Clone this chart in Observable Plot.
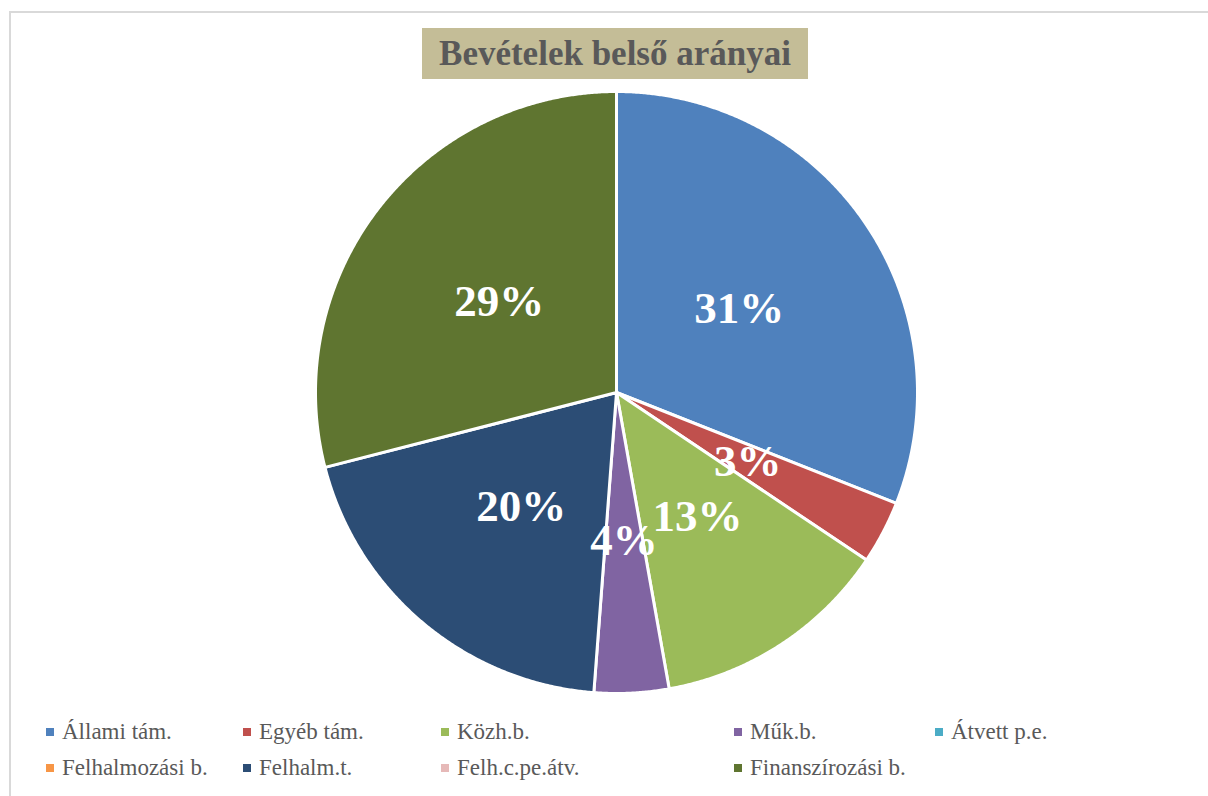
<!DOCTYPE html>
<html>
<head>
<meta charset="utf-8">
<script src="https://cdn.jsdelivr.net/npm/d3@7"></script>
<script src="https://cdn.jsdelivr.net/npm/@observablehq/plot@0.6"></script>
<style>
  html, body { margin: 0; padding: 0; background: #ffffff; }
  #wrap { position: relative; width: 1208px; height: 796px; overflow: hidden; background: #fff; }
  #frame { position: absolute; left: 9px; top: 11px; width: 1400px; height: 1000px;
           border-left: 2px solid #d9d9d9; border-top: 2px solid #d9d9d9; }
  #title { position: absolute; left: 422px; top: 28px; width: 386px; height: 51px;
           background: #c4bd97; color: #595959; font-family: "Liberation Serif", "DejaVu Serif", serif;
           font-weight: bold; font-size: 35px; display: flex; align-items: center; justify-content: center;
           white-space: nowrap; }
  #chart { position: absolute; left: 0; top: 80px; }
  #legend { position: absolute; left: 46px; top: 714px; display: grid;
            grid-template-columns: 197px 198px 293px 201px auto; grid-auto-rows: 36px;
            font-family: "Liberation Serif", "DejaVu Serif", serif; font-size: 23px; color: #595959; }
  .item { display: flex; align-items: center; white-space: nowrap; }
  .sw { width: 8px; height: 8px; margin-right: 8px; flex: none; }
</style>
</head>
<body>
<div id="wrap">
  <div id="frame"></div>
  <div id="chart"></div>
  <div id="title">Bevételek belső arányai</div>
  <div id="legend"></div>
</div>
<script>
const categories = ["Állami tám.", "Egyéb tám.", "Közh.b.", "Műk.b.", "Átvett p.e.", "Felhalmozási b.", "Felhalm.t.", "Felh.c.pe.átv.", "Finanszírozási b."];
const shares = [31.0, 3.4, 12.8, 4.0, 0, 0, 19.8, 0, 29.0];
const colors = ["#4f81bd", "#c0504d", "#9bbb59", "#8064a2", "#4bacc6", "#f79646", "#2c4d75", "#e6b9b8", "#5f7530"];

const data = categories.map((name, i) => ({name, value: shares[i]}));
const total = d3.sum(shares);
const arcs = d3.pie().sort(null).value(d => d.value)(data);

// polygon points for each slice (unit circle, angle clockwise from top)
const pts = [];
for (const a of arcs) {
  if (a.data.value <= 0) continue;
  pts.push({name: a.data.name, x: 0, y: 0});
  const n = Math.max(2, Math.ceil((a.endAngle - a.startAngle) / 0.005));
  for (let k = 0; k <= n; k++) {
    const t = a.startAngle + (a.endAngle - a.startAngle) * k / n;
    pts.push({name: a.data.name, x: Math.sin(t), y: Math.cos(t)});
  }
}
const labelR = 0.493;
const labels = arcs.filter(a => a.data.value > 0).map(a => {
  const m = (a.startAngle + a.endAngle) / 2;
  return {name: a.data.name, x: labelR * Math.sin(m), y: labelR * Math.cos(m),
          text: Math.round(a.data.value / total * 100) + "%"};
});

const cx = 616, cy = 312, r = 301;
const plot = Plot.plot({
  width: 1208,
  height: 620,
  style: {background: "transparent"},
  x: {domain: [-1, 1], range: [cx - r, cx + r], axis: null},
  y: {domain: [-1, 1], range: [cy + r, cy - r], axis: null},
  color: {domain: categories, range: colors},
  marks: [
    Plot.line(pts, {x: "x", y: "y", z: "name", fill: "name", stroke: "white", strokeWidth: 3,
                    strokeLinejoin: "round", curve: "linear-closed"}),
    Plot.text(labels, {x: "x", y: "y", text: "text", fill: "white", fontSize: 45, fontWeight: "bold",
                       fontFamily: "Liberation Serif, DejaVu Serif, serif"})
  ]
});
document.getElementById("chart").appendChild(plot);

const legend = document.getElementById("legend");
categories.forEach((c, i) => {
  const it = document.createElement("div");
  it.className = "item";
  const sw = document.createElement("span");
  sw.className = "sw";
  sw.style.background = colors[i];
  it.appendChild(sw);
  it.appendChild(document.createTextNode(c));
  legend.appendChild(it);
});
</script>
</body>
</html>
